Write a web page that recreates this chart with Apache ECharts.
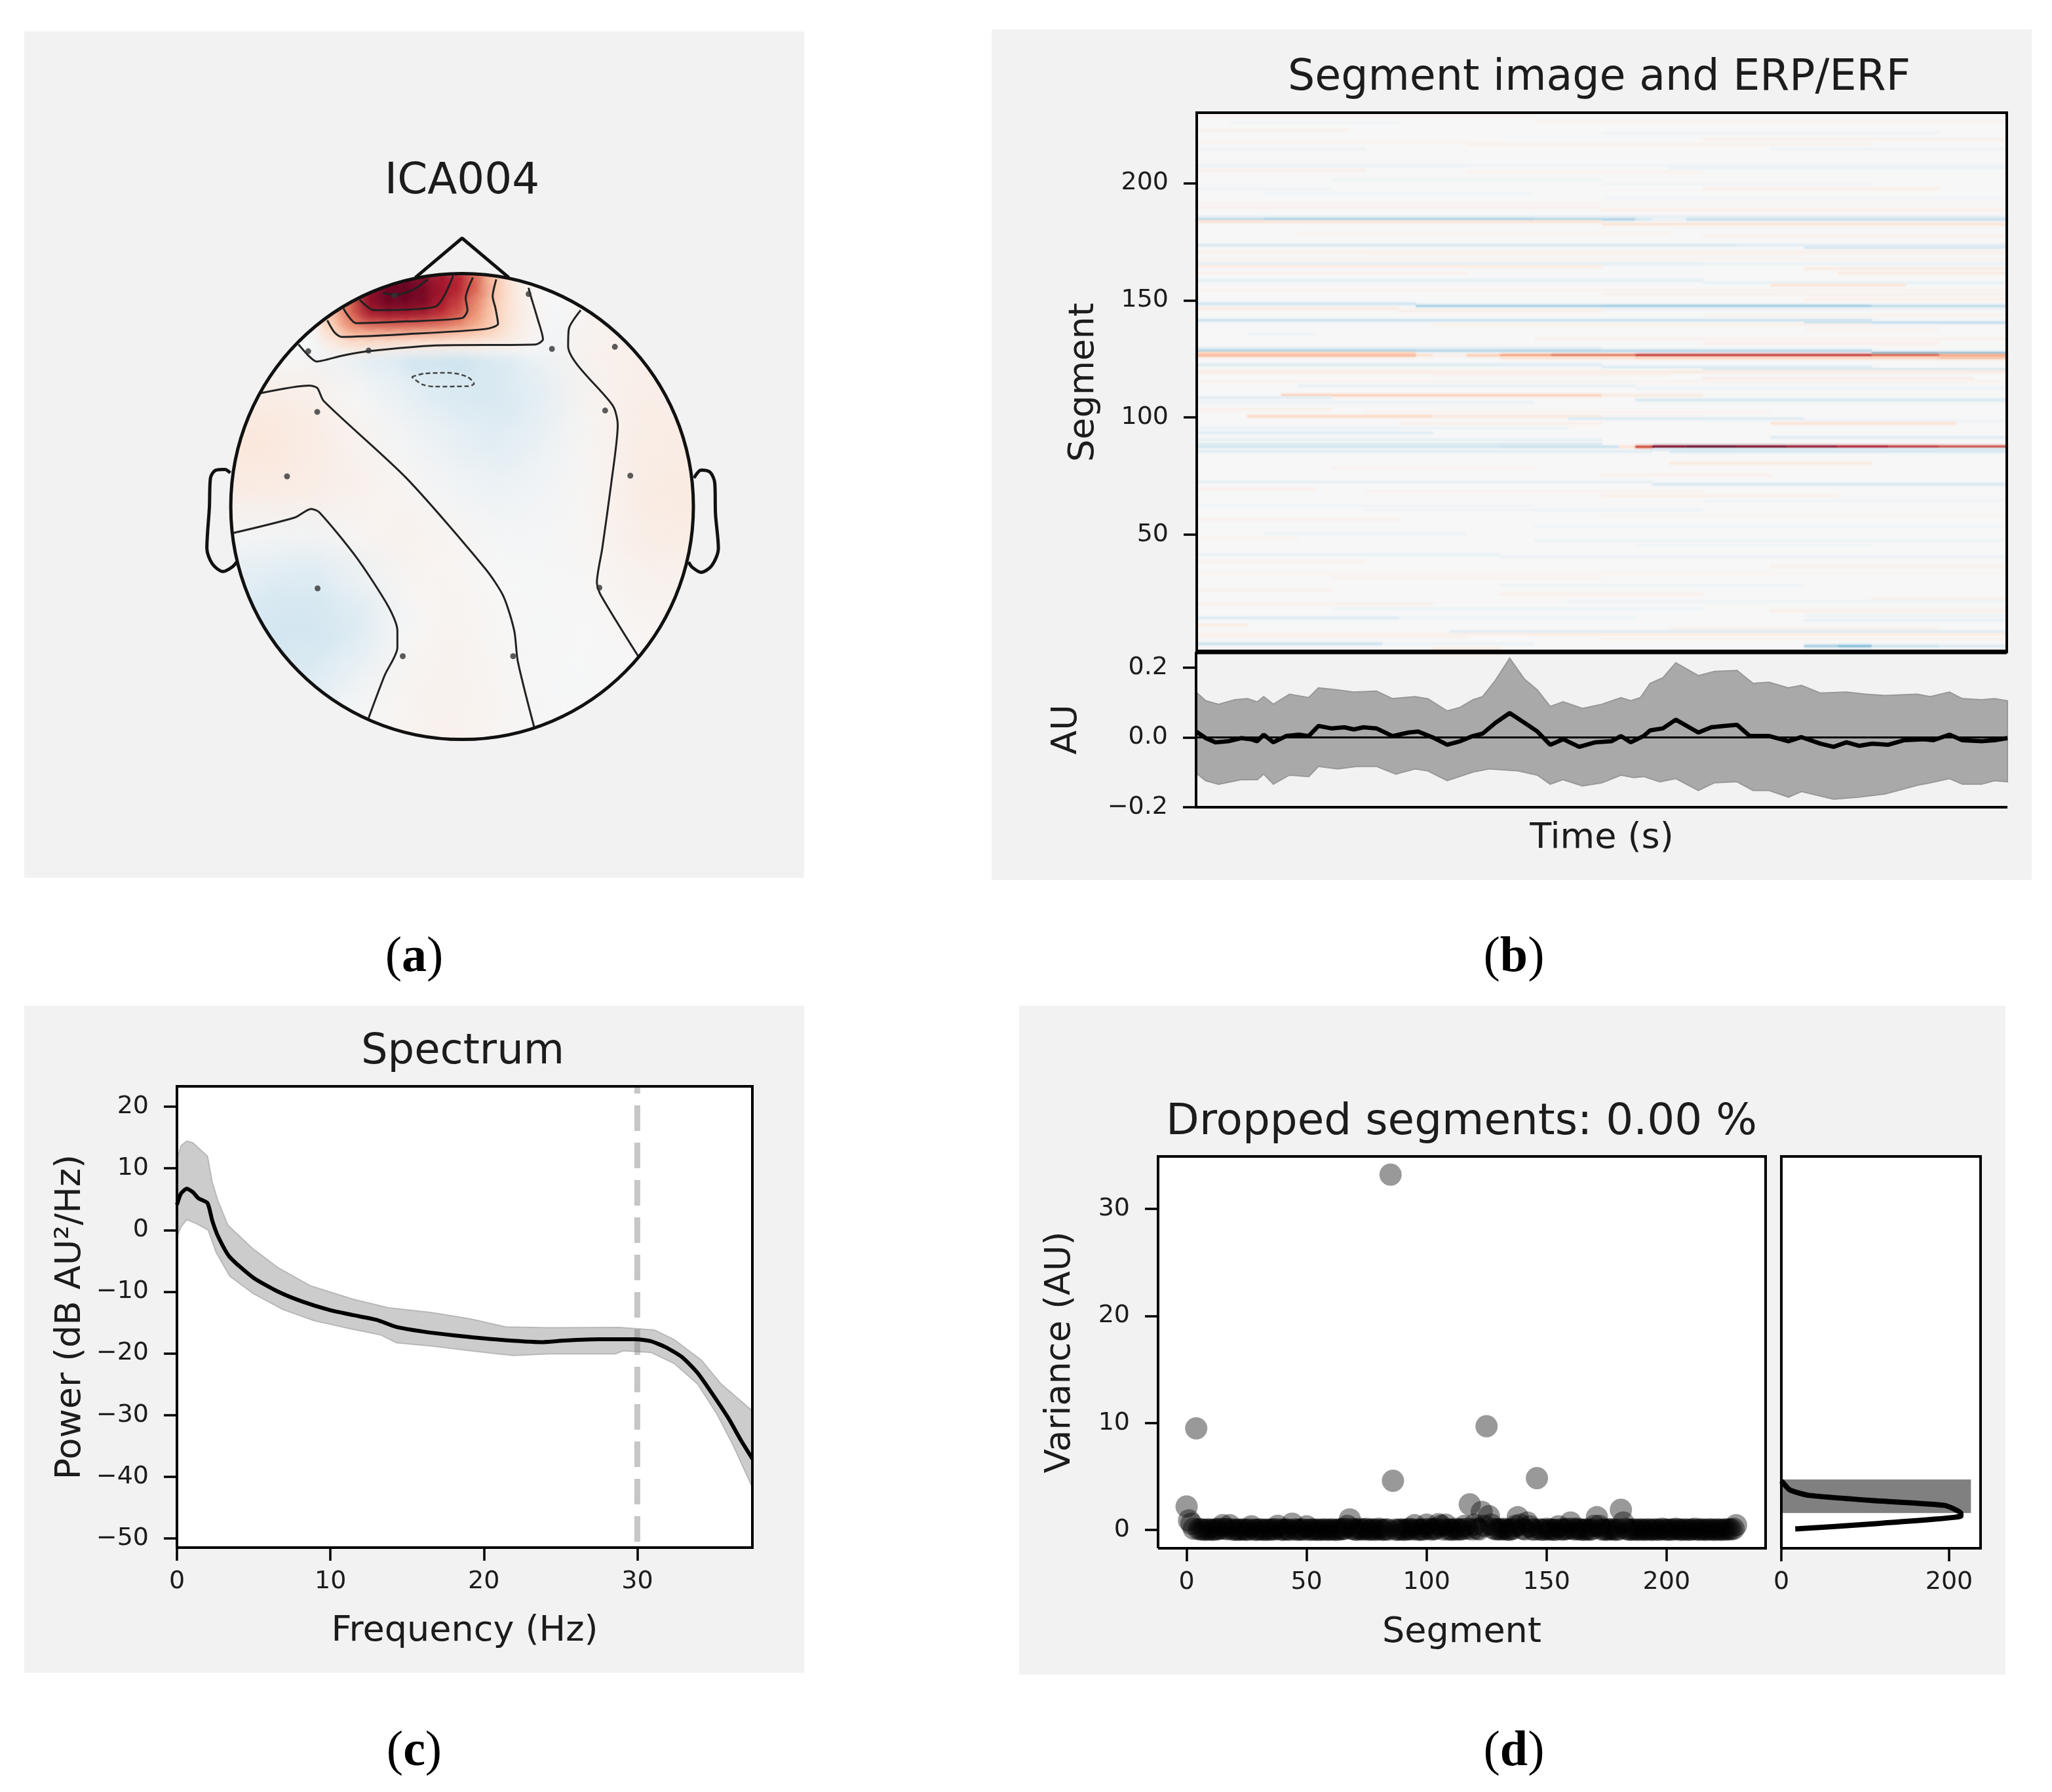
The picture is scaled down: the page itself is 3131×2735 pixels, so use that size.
<!DOCTYPE html>
<html><head><meta charset="utf-8">
<style>html,body{margin:0;padding:0;background:#fff}#c{width:3131px;height:2735px}</style>
<script src="https://cdn.jsdelivr.net/npm/echarts@6/dist/echarts.min.js"></script>
</head><body><div id="c"></div>
<script>
// ---------- Topomap (units: sensor-plane coordinates 0..1568) ----------
const headCenter=[775,828], headRadiusX=643.5, headRadiusY=680;
const coarseCols=[133,261,390,519,647,775,904,1033,1161,1289,1418];
const coarseRows=[155,290,425,560,695,830,965,1100,1235,1370,1505];
const coarseValues=[
[0,0,0,0,0,0,0,0,-.01,0,0],
[0,0,0,.03,.02,0,0,-.02,.03,.05,.03],
[0,0,-.02,-.1,-.2,-.24,-.16,-.05,.05,.06,.05],
[.1,.08,.07,0,-.08,-.15,-.17,-.1,.03,.07,.07],
[.12,.12,.08,.04,-.02,-.08,-.12,-.06,.02,.08,.08],
[.08,.08,.07,.05,.02,-.03,-.06,-.03,.02,.08,.1],
[-.02,-.03,-.04,.02,.05,.02,-.02,-.02,.02,.07,.08],
[-.1,-.15,-.17,-.08,.02,.03,0,-.01,.01,.04,.04],
[-.15,-.2,-.2,-.15,0,.04,.01,-.01,0,.02,.02],
[-.1,-.15,-.15,-.05,.03,.04,.02,-.01,-.01,0,0],
[0,0,-.05,0,.03,.05,.02,-.01,0,0,0]];
const hotCols=[420,470,520,570,620,670,720,770,820,870,920,970,1020];
const hotRows=[165,195,225,255,285,315,345];
const hotValues=[
[.3,.5,.85,.98,1,.95,.85,.8,.6,.3,.12,.03,0],
[.3,.6,.9,1,1,.97,.85,.72,.5,.28,.12,.03,-.01],
[.3,.6,.88,.95,.95,.92,.8,.68,.47,.25,.12,.04,-.01],
[.3,.55,.75,.78,.78,.76,.7,.6,.42,.25,.12,.04,-.01],
[.22,.45,.5,.52,.52,.5,.48,.42,.35,.24,.11,.04,-.02],
[.15,.25,.25,.25,.24,.23,.22,.2,.18,.14,.08,.03,-.02],
[.05,.09,.09,.08,.06,.05,.05,.04,.04,.03,.02,.01,-.03]];
const contourLines=[
[[320,355],[345,385],[370,405],[440,388],[515,375],[700,358],[980,355],[1000,340],[985,280],[965,210],[960,190]],
[[400,285],[420,320],[440,333],[620,325],[840,310],[875,295],[868,250],[860,215],[870,165]],
[[445,250],[480,293],[620,288],[775,278],[790,255],[785,220],[805,160]],
[[490,225],[530,255],[700,245],[750,155]],
[[555,205],[590,210],[640,195],[680,165]],
[[215,497],[350,475],[372,482],[390,520],[620,745],[840,1010],[890,1090],[920,1190],[930,1280],[975,1470]],
[[140,905],[310,860],[355,835],[378,845],[480,975],[570,1120],[595,1190],[595,1240],[560,1320],[515,1445]],
[[1105,255],[1072,310],[1070,360],[1195,535],[1208,590],[1190,760],[1165,950],[1150,1050],[1160,1085],[1265,1265]]];
const dashedContour=[[635,450],[670,440],[740,438],[790,450],[808,470],[790,477],[700,478],[665,472],[635,450]];
const earLeft=[[130,730],[115,720],[90,722],[75,745],[72,830],[65,950],[80,995],[110,1018],[135,1005],[148,990]];
const earRight=[[1420,745],[1440,722],[1465,728],[1478,760],[1480,850],[1488,950],[1470,1000],[1440,1020],[1415,1005],[1405,990]];
const noseLine=[[645,160],[775,45],[905,160]];
const sensors=[[960,208],[587,212],[1025,368],[1200,362],[347,375],[515,373],[1173,548],[372,552],[288,740],[1243,738],[373,1067],[1157,1065],[610,1265],[917,1265]];

// ---------- Segment image: [segment, startBin, endBin, value], 48 time bins ----------
const segmentTicks=[50,100,150,200];
const segmentStreaks=[
[228,0,20,.03],[226,20,48,.03],[225,2,12,-.03],[222,0,9,.04],[221,24,44,-.03],[218,30,48,.04],[217,0,18,.03],[216,16,40,.04],[214,0,10,-.04],[214,34,48,-.04],
[207,0,16,-.06],[207,16,48,-.03],[206,28,48,-.06],[205,0,10,.05],[204,16,30,.03],[201,8,24,-.03],[199,24,40,-.03],[197,0,8,-.03],[197,30,44,.05],[195,4,20,-.03],[193,24,48,-.03],[191,0,48,.02],[189,0,24,.04],[188,24,48,.05],
[185,0,48,-.08],[184,0,4,-.26],[184,4,20,-.32],[184,20,26,-.28],[184,26,27,-.15],[184,27,29,-.06],[184,29,48,-.22],[183,0,24,.12],[182,24,48,.12],
[178,6,28,.03],[177,30,48,.04],[173,0,32,-.14],[173,32,48,-.1],[172,36,48,-.16],[170,0,48,.05],[169,10,36,.03],[167,0,48,.03],
[165,0,30,-.09],[165,30,48,-.06],[164,0,24,.07],[163,36,48,.07],[161,0,16,.04],[161,38,48,.08],[158,0,30,-.09],[157,30,48,-.07],[156,34,42,.12],[154,0,48,.03],[152,24,48,.04],[150,36,48,.05],
[148,0,13,-.18],[147,13,24,-.34],[147,24,40,-.36],[147,40,48,-.26],[146,13,48,-.08],[146,0,12,.08],[145,12,24,.06],[143,30,48,.03],[141,0,40,-.2],[140,36,48,-.22],[139,14,40,.04],[137,36,44,.03],[135,3,7,-.04],[133,20,48,.04],[131,30,44,.05],
[129,0,24,-.08],[128,0,13,-.3],[128,13,24,-.26],[128,24,40,-.24],[127,0,13,.2],[127,40,48,-.36],[126,0,13,.3],[126,13,14,.14],[126,14,16,.05],[126,16,18,.22],[126,18,21,.4],[126,21,26,.52],[126,26,40,.7],[126,40,44,.58],[126,44,48,.38],[125,18,26,.14],[125,26,44,.22],[125,44,48,.28],
[122,0,24,-.12],[121,24,40,-.12],[120,30,48,-.16],[119,0,48,.08],[118,14,28,.05],[116,30,46,.07],[115,0,48,.03],[113,6,26,-.07],[112,26,48,-.05],
[109,5,24,.22],[109,24,30,.08],[108,0,8,-.1],[107,26,48,-.14],[106,0,20,-.06],[103,0,8,.05],[102,10,34,.03],[100,3,14,.17],[100,14,24,.09],[100,24,30,.03],[99,22,36,-.12],[98,36,48,-.04],[97,12,24,.05],[97,34,45,.12],[95,0,22,-.06],
[93,0,14,-.1],[91,34,48,-.1],[90,0,24,-.08],[88,0,24,-.14],[87,0,18,-.17],[87,18,25,-.2],[87,25,26,.12],[87,26,27,.6],[87,27,29,.95],[87,29,32,1],[87,32,35,.95],[87,35,38,.88],[87,38,41,.8],[87,41,44,.72],[87,44,48,.65],[86,27,48,-.16],[85,0,27,-.1],[85,28,48,-.16],
[80,28,40,.08],[78,8,20,.03],[75,24,34,.04],[72,0,27,-.08],[71,27,48,-.14],[69,0,7,.05],[68,10,30,.03],[66,24,38,.05],[64,30,48,-.03],[62,0,20,-.03],[60,10,30,-.04],[58,24,48,.03],[56,0,12,.04],[53,20,48,-.03],[50,4,16,-.04],[48,0,6,.03],[47,20,48,-.05],[45,26,40,-.03],
[41,0,18,-.07],[40,18,48,-.06],[38,0,10,.04],[36,34,48,.04],[33,0,48,.02],[31,8,24,.03],[28,18,36,-.04],[26,0,8,.04],[24,18,30,.05],[22,40,48,.06],[21,22,48,-.05],[20,0,14,.04],[18,8,30,-.05],[17,34,48,.05],[15,36,48,-.05],[14,0,12,-.12],[14,12,26,-.05],[13,36,48,-.07],[11,0,3,.07],[9,28,44,.05],
[8,15,48,-.12],[7,0,20,.06],[7,20,48,.07],[6,0,16,.04],[5,24,48,.04],[3,0,11,-.2],[3,11,20,-.05],[2,36,38,-.3],[2,38,40,-.4],[2,40,44,-.2],[2,44,48,-.12],[1,14,18,.06]
];

// ---------- ERP / ERF ----------
const erpTicks=[-.2,0,.2];
const erpMeanX=[270,285,300,320,340,355,365,375,390,410,430,445,460,480,500,515,530,550,575,600,615,640,660,680,700,715,735,757,780,800,820,840,865,890,915,930,945,965,975,995,1015,1050,1070,1090,1110,1130,1160,1190,1210,1240,1260,1280,1300,1320,1345,1370,1400,1415,1440,1460,1490,1510,1530];
const erpMean=[.017,-.002,-.014,-.011,-.002,-.005,-.011,.008,-.014,.004,.008,.004,.033,.026,.029,.023,.029,.026,.004,.014,.017,-.002,-.021,-.011,.004,.011,.042,.07,.042,.017,-.021,-.005,-.027,-.014,-.011,.004,-.014,.004,.02,.026,.051,.014,.029,.033,.036,.004,.004,-.011,.001,-.018,-.027,-.014,-.024,-.018,-.021,-.008,-.005,-.008,.008,-.008,-.011,-.008,-.002];
const erpUpperX=[270,285,305,330,350,365,375,390,415,445,460,490,515,550,575,610,630,660,680,700,715,735,757,780,800,820,840,870,900,930,945,960,975,995,1015,1050,1075,1110,1135,1160,1190,1210,1240,1280,1310,1340,1390,1410,1440,1460,1490,1510,1530];
const erpUpper=[.13,.105,.095,.108,.111,.102,.117,.095,.124,.114,.142,.136,.13,.133,.111,.117,.111,.076,.086,.108,.117,.164,.227,.167,.136,.089,.102,.083,.095,.114,.105,.114,.155,.171,.214,.177,.189,.192,.155,.158,.142,.149,.127,.13,.124,.12,.124,.117,.13,.111,.108,.111,.105];
const erpLowerX=[270,285,305,340,365,375,390,415,445,460,490,520,550,580,610,630,660,700,725,770,800,820,840,870,900,930,950,965,990,1015,1050,1075,1110,1135,1160,1190,1210,1260,1300,1340,1390,1410,1440,1460,1490,1510,1530];
const erpLower=[-.102,-.124,-.134,-.121,-.121,-.105,-.134,-.108,-.112,-.083,-.09,-.083,-.083,-.105,-.09,-.096,-.124,-.099,-.09,-.096,-.108,-.134,-.121,-.139,-.13,-.108,-.115,-.112,-.127,-.118,-.152,-.13,-.127,-.152,-.152,-.171,-.155,-.177,-.171,-.162,-.137,-.13,-.118,-.134,-.134,-.124,-.127];

// ---------- Spectrum ----------
const freqTicks=[0,10,20,30];
const powerTicks=[-50,-40,-30,-20,-10,0,10,20];
const specFreq=[0,.26,.64,1.02,1.4,1.99,2.3,2.68,3.44,4.97,6.63,8.16,9.95,11.48,13.01,14.29,16.07,18.11,20.92,23.72,25.26,27.55,29.85,30.87,31.89,32.91,33.93,34.95,35.97,36.73,37.5];
const specMean=[4.12,5.92,6.69,6.18,5.15,4.38,1.54,-1.03,-4.38,-7.72,-10.04,-11.59,-12.98,-13.8,-14.57,-15.71,-16.48,-17.1,-17.77,-18.18,-17.92,-17.71,-17.71,-18.02,-19.05,-20.6,-23.17,-26.78,-30.64,-33.99,-37.08];
const specUpperF=[0,.26,.64,1.02,1.99,2.3,2.68,3.32,4.97,6.63,8.67,11.48,13.78,16.58,19.13,21.43,24.23,28.83,31.12,32.4,34.18,35.46,37.5];
const specUpper=[11.33,13.65,14.42,14.16,11.95,7.72,4.63,.77,-3.09,-6.18,-9.01,-11.23,-12.62,-13.39,-14.42,-15.71,-15.86,-15.81,-16.22,-17.77,-21.11,-24.97,-29.35];
const specLowerF=[0,.26,.64,1.28,2.04,2.55,3.44,4.97,6.89,8.93,11.22,13.27,14.29,16.58,19.13,20.92,21.94,24.23,28.57,29.08,30.87,32.4,33.93,35.2,36.22,37.5];
const specLower=[-1.03,.51,1.7,1.03,0,-3.6,-7.47,-10.3,-12.87,-14.68,-15.96,-16.99,-18.28,-18.8,-19.57,-20.08,-20.34,-20.08,-20.08,-19.57,-19.83,-21.63,-24.97,-29.87,-34.76,-41.71];
const lowPassFreq=30;

// ---------- Dropped segments ----------
const segmentXTicks=[0,50,100,150,200];
const varianceTicks=[0,10,20,30];
const histXTicks=[0,200];
const segmentVariance=[
2.2,.9,.6,.12,9.5,.08,.06,.04,.02,.06,
.04,.02,.06,.08,.12,.45,.12,.08,.45,.06,
.02,.04,.02,.06,.04,.02,.06,.35,.04,.02,
.04,.06,.02,.04,.02,.06,.04,.08,.4,.06,
.02,.04,.06,.02,.6,.06,.04,.02,.06,.04,
.35,.02,.04,.06,.02,.04,.02,.06,.04,.02,
.06,.04,.02,.04,.06,.08,.12,.4,1,.12,
.04,.02,.12,.04,.06,.12,.02,.04,.06,.02,
.12,.04,.02,.06,.04,33.2,4.6,.04,.02,.06,
.04,.02,.06,.12,.04,.45,.06,.02,.04,.06,
.5,.12,.04,.08,.12,.55,.4,.06,.5,.04,
.06,.02,.12,.04,.06,.08,.4,.12,2.4,.06,
.5,.12,.06,1.7,.4,9.7,1.3,.5,.12,.06,
.08,.04,.12,.06,.02,.04,.12,.4,1.2,.5,
.12,.06,.7,.35,.06,.04,4.85,.06,.04,.02,
.12,.04,.06,.02,.04,.35,.06,.04,.08,.12,
.7,.12,.04,.12,.06,.02,.04,.06,.02,.08,
.4,1.2,.4,.06,.04,.02,.06,.08,.04,.02,
.06,1.9,.7,.12,.04,.02,.06,.04,.02,.06,
.04,.02,.06,.04,.02,.06,.04,.02,.12,.06,
.04,.02,.06,.04,.12,.06,.02,.04,.06,.02,
.04,.06,.12,.02,.04,.06,.02,.04,.06,.04,
.02,.06,.04,.02,.06,.04,.08,.06,.12,.45];
const histBins=[[1.59,4.73,226],[4.73,6.4,1],[9.3,10.5,1]];
const histLineCount=[16.6,214,214,194.8,110,32,10.2,0];
const histLineVar=[.1,1.3,1.6,2.3,2.75,3.25,3.75,4.6];
</script>
<script>
const FONT='DejaVu Sans', TXT='#1c1c1c';
const TICK=38, LABEL=54, TITLE=65;
const stops=[[5,48,97],[33,102,172],[67,147,195],[146,197,222],[209,229,240],[247,247,247],[253,219,199],[244,165,130],[214,96,77],[178,24,43],[103,0,31]];
function cmap(v,a){const t=Math.max(0,Math.min(1,(v+1)/2))*10,i=Math.min(9,Math.floor(t)),f=t-i,c=[0,1,2].map(k=>Math.round(stops[i][k]+(stops[i+1][k]-stops[i][k])*f));return `rgba(${c[0]},${c[1]},${c[2]},${a===undefined?1:a})`;}
const zip=(a,b)=>a.map((x,i)=>[x,b[i]]);
const fmt=v=>String(v).replace('-','\u2212');
const series=[];
function ax(g,o){
  series.push(Object.assign({coordinateSystem:'cartesian2d',xAxisIndex:g,yAxisIndex:g,silent:true},o));
}
function custom(g,data,renderItem,z){ax(g,{type:'custom',data,renderItem,z:z||2,clip:false});}
function polyline(g,pts,width,z){custom(g,[[pts[0][0],pts[0][1]]],(p,api)=>({type:'polyline',shape:{points:pts.map(q=>api.coord(q))},style:{stroke:'#000',lineWidth:width,fill:null}}),z||20);}
function frame(g,x0,x1,y0,y1,w){polyline(g,[[x0,y0],[x1,y0],[x1,y1],[x0,y1],[x0,y0]],w);}
function band(g,up,lo,fill,stroke){custom(g,[[up[0][0],up[0][1]]],(p,api)=>({type:'polygon',shape:{points:up.concat(lo.slice().reverse()).map(q=>api.coord(q))},style:{fill,stroke,lineWidth:2}}));}
function line(g,pts,color,width,extra){ax(g,Object.assign({type:'line',data:pts,showSymbol:false,symbol:'none',lineStyle:{color,width},z:3},extra||{}));}

const grids=[
 {left:280,top:340,width:860,height:820},
 {left:1826,top:172,width:1236,height:823,backgroundColor:'#f7f7f7',show:true,borderWidth:0},
 {left:1825,top:995,width:1238,height:237},
 {left:270,top:1658,width:878,height:704,backgroundColor:'#fff',show:true,borderWidth:0},
 {left:1767,top:1765,width:927,height:598,backgroundColor:'#fff',show:true,borderWidth:0},
 {left:2718,top:1765,width:304,height:598,backgroundColor:'#fff',show:true,borderWidth:0}
];
const hidden={show:false};
function valAx(g,min,max,ticks,o){
  const base={type:'value',gridIndex:g,min,max,splitLine:hidden,scale:true,
    axisLine:{show:false,onZero:false},
    axisTick:ticks?{show:true,length:20,inside:false,customValues:ticks,lineStyle:{color:'#000',width:3.5}}:hidden,
    axisLabel:ticks?{show:true,customValues:ticks,formatter:fmt,fontFamily:FONT,fontSize:TICK,color:TXT,margin:43}:hidden,
    nameTextStyle:{fontFamily:FONT,fontSize:LABEL,color:TXT},nameLocation:'middle'};
  return Object.assign(base,o||{});
}
const xAxes=[
 valAx(0,0,1568,null,{show:false}),
 valAx(1,0,48,null,{show:false}),
 valAx(2,270,1530,null,{name:'Time (s)',nameGap:21}),
 valAx(3,0,37.5,freqTicks,{name:'Frequency (Hz)',nameGap:101}),
 valAx(4,-11.9,241.3,segmentXTicks,{name:'Segment',nameGap:102}),
 valAx(5,0,237.5,histXTicks)
];
const yAxes=[
 valAx(0,0,1568,null,{show:false,inverse:true}),
 valAx(1,0,230,segmentTicks,{name:'Segment',nameGap:145}),
 valAx(2,-.2,.245,erpTicks,{name:'AU',nameGap:170}),
 valAx(3,-51.5,23.3,powerTicks,{name:'Power (dB AU\u00b2/Hz)',nameGap:135}),
 valAx(4,-1.7,34.9,varianceTicks,{name:'Variance (AU)',nameGap:122}),
 valAx(5,-1.7,34.9,null)
];
xAxes.forEach(a=>{if(a.axisLabel.show)a.axisLabel.margin=33;});
yAxes[2].axisLabel.formatter=v=>fmt(Number(v).toFixed(1));

// --- a: topomap
const head=(api)=>{const c=api.coord(headCenter),s=api.size([headRadiusX,headRadiusY]);return {cx:c[0],cy:c[1],rx:s[0],ry:s[1]};};
custom(0,[headCenter],(p,api)=>({type:'ellipse',shape:head(api),style:{fill:'#f7f7f7'}}),1);
const blob=(rPx)=>(p,api)=>{
  const c=api.coord([api.value(0),api.value(1)]),v=api.value(2);
  return {type:'circle',shape:{cx:c[0],cy:c[1],r:rPx},
    clipPath:{type:'ellipse',shape:head(api)},
    style:{fill:new echarts.graphic.RadialGradient(.5,.5,.5,[{offset:0,color:cmap(v,1)},{offset:.45,color:cmap(v,.55)},{offset:1,color:cmap(v,0)}])}};
};
const coarseData=[];coarseRows.forEach((y,j)=>coarseCols.forEach((x,i)=>coarseData.push([x,y,coarseValues[j][i]])));
custom(0,coarseData,blob(100),2);
const hotData=[];
hotRows.slice().reverse().forEach((y)=>{const j=hotRows.indexOf(y);hotCols.forEach((x,i)=>hotData.push([x,y,hotValues[j][i]]));});
custom(0,hotData,blob(34),3);
contourLines.forEach(c=>line(0,c,'#222',3,{smooth:.25,z:5}));
line(0,dashedContour,'#333',2.5,{smooth:.3,z:5,lineStyle:{color:'#444',width:2.5,type:[7,4]}});
ax(0,{type:'scatter',data:sensors,symbolSize:9,itemStyle:{color:'#333'},z:6});
custom(0,[headCenter],(p,api)=>({type:'ellipse',shape:head(api),style:{fill:null,stroke:'#111',lineWidth:5}}),7);
[earLeft,earRight].forEach(e=>line(0,e,'#111',5,{smooth:.3,z:7}));
line(0,noseLine,'#111',5,{z:7});

// --- b: segment image
custom(1,segmentStreaks,(p,api)=>{
  const s=api.value(0),a=api.coord([api.value(1),s+1]),b=api.coord([api.value(2),s]),f=cmap(api.value(3));
  return {type:'rect',shape:{x:a[0],y:a[1],width:b[0]-a[0],height:b[1]-a[1]},style:{fill:f,shadowColor:f,shadowBlur:4}};
});
polyline(1,[[0,0],[48,0]],7,19);
frame(1,0,48,0,230,4);
band(2,zip(erpUpperX,erpUpper),zip(erpLowerX,erpLower),'#a9a9a9','#989898');
line(2,[[270,0],[1530,0]],'#000',3);
line(2,zip(erpMeanX,erpMean),'#000',6.5,{z:4});
polyline(2,[[270,.245],[270,-.2],[1530,-.2]],4);

// --- c: spectrum
band(3,zip(specUpperF,specUpper),zip(specLowerF,specLower),'#cccccc','#b8b8b8');
line(3,[[lowPassFreq,23.3],[lowPassFreq,-51.5]],'rgba(128,128,128,.45)',9,{lineStyle:{color:'rgba(128,128,128,.45)',width:9,type:[39,18],dashOffset:28}});
line(3,zip(specFreq,specMean),'#000',6,{z:4,smooth:.2});
frame(3,0,37.5,-51.5,23.3,4);

// --- d: dropped segments
ax(4,{type:'scatter',data:segmentVariance.map((v,i)=>[i,v]),symbolSize:34,itemStyle:{color:'rgba(0,0,0,.5)',borderWidth:0},z:3});
frame(4,-11.9,241.3,-1.7,34.9,4);
custom(5,histBins,(p,api)=>{
  const a=api.coord([0,api.value(1)]),b=api.coord([api.value(2),api.value(0)]);
  return {type:'rect',shape:{x:a[0],y:a[1],width:b[0]-a[0],height:b[1]-a[1]},style:{fill:'#808080'}};
});
line(5,zip(histLineCount,histLineVar),'#000',8,{smooth:.15});
frame(5,0,237.5,-1.7,34.9,4);

// --- panels, titles, captions
const panels=[[37,48,1190,1292],[1513,45,1587,1298],[37,1535,1190,1018],[1555,1535,1505,1021]];
const titles=[['ICA004',705,278,TITLE+1],['Segment image and ERP/ERF',2440,120,TITLE],['Spectrum',706,1606,TITLE-1],['Dropped segments: 0.00 %',2230,1714,TITLE+1]];
const captions=[['a',632,1462],['b',2310,1462],['c',632,2674],['d',2310,2674]];
const graphic=[];
panels.forEach(p=>graphic.push({type:'rect',z:-10,silent:true,shape:{x:p[0],y:p[1],width:p[2],height:p[3]},style:{fill:'#f2f2f2'}}));
titles.forEach(t=>graphic.push({type:'text',z:30,x:t[1],y:t[2],style:{text:t[0],font:`${t[3]}px "${FONT}"`,fill:TXT,align:'center',verticalAlign:'middle'}}));
const capFont={fontFamily:'Liberation Serif',fontSize:76,fill:'#000'};
captions.forEach(c=>graphic.push({type:'text',z:30,x:c[1],y:c[2],style:{text:`{p|(}{b|${c[0]}}{p|)}`,align:'center',verticalAlign:'middle',rich:{p:Object.assign({fontWeight:'normal'},capFont),b:Object.assign({fontWeight:'bold'},capFont)}}}));

const chart=echarts.init(document.getElementById('c'),null,{renderer:'canvas',width:3131,height:2735});
chart.setOption({animation:false,backgroundColor:'#fff',grid:grids,xAxis:xAxes,yAxis:yAxes,series,graphic});
</script></body></html>
